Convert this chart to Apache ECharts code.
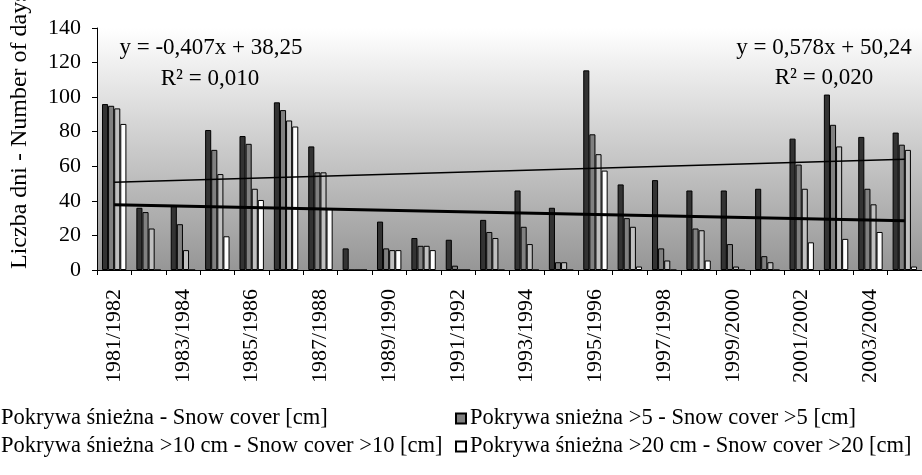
<!DOCTYPE html>
<html>
<head>
<meta charset="utf-8">
<script src="https://cdn.jsdelivr.net/npm/echarts@6/dist/echarts.min.js"></script>
<style>html,body{margin:0;padding:0;background:#fff;}#c{width:922px;height:475px;}</style>
</head>
<body>
<div id="c"></div>
<script>
const seasons = ['1981/1982','1982/1983','1983/1984','1984/1985','1985/1986','1986/1987','1987/1988','1988/1989','1989/1990','1990/1991','1991/1992','1992/1993','1993/1994','1994/1995','1995/1996','1996/1997','1997/1998','1998/1999','1999/2000','2000/2001','2001/2002','2002/2003','2003/2004','2004/2005'];
const snowCover   = [96, 36, 37, 81, 77.5, 97, 71.5, 12.5, 28, 18.5, 17.5, 29, 46, 36, 115.5, 49.5, 52, 46, 46, 47, 76, 101.5, 77, 79.5];
const snowOver5   = [95, 33.5, 26.5, 69.5, 73, 92.5, 56.5, 0, 12.5, 14, 2.5, 22, 25, 4.5, 78.5, 30, 12.5, 24, 15, 8, 61, 84, 47, 72.5];
const snowOver10  = [93.5, 24, 11.5, 55.5, 47, 86.5, 56.5, 0, 11.5, 14, 0, 18.5, 15, 4.5, 67, 25, 5.5, 23, 2, 4.5, 47, 71.5, 38, 69.5];
const snowOver20  = [84.5, 0, 0, 19.5, 40.5, 83, 35.5, 0, 11.5, 11.5, 0, 0, 0, 0, 57.5, 2, 0, 5.5, 0, 0, 16, 18, 22, 2];
const trendThinEnds  = [50.8, 64.1];
const trendThickEnds = [37.8, 28.5];
const yTicks = {min: 0, max: 140, interval: 20};
const names = ['Pokrywa śnieżna - Snow cover [cm]', 'Pokrywa snieżna >5 - Snow cover >5 [cm]', 'Pokrywa śnieżna >10 cm - Snow cover >10 [cm]', 'Pokrywa śnieżna >20 cm - Snow cover >20 [cm]'];
const yName = 'Liczba dni - Number of days';
const eqLeft = ['y = -0,407x + 38,25', 'R² = 0,010'];
const eqRight = ['y = 0,578x + 50,24', 'R² = 0,020'];

const FONT = '"Liberation Serif", "Times New Roman", serif';
const colors = ['#333333', '#808080', '#c0c0c0', '#ffffff'];
const last = seasons.length - 1;

function bar(name, data, color) {
  return {
    name: name, type: 'bar', data: data,
    barGap: '0%', barCategoryGap: '29%',
    itemStyle: {color: color, borderColor: '#000', borderWidth: 1},
    emphasis: {disabled: true}
  };
}
function trend(ends, w) {
  return {
    type: 'line', data: [[seasons[0], ends[0]], [seasons[last], ends[1]]],
    showSymbol: false, symbol: 'none', silent: true,
    lineStyle: {color: '#000', width: w}, z: 5
  };
}
function txt(x, y, s, size) {
  return {type: 'text', x: x, y: y, style: {text: s, font: size + 'px ' + FONT, fill: '#000', align: 'center', verticalAlign: 'middle'}};
}
const legendText = {fontFamily: FONT, fontSize: 22.5, color: '#000', padding: [0, 0, 0, -1]};

const chart = echarts.init(document.getElementById('c'), null, {renderer: 'canvas'});
chart.setOption({
  animation: false,
  backgroundColor: '#fff',
  grid: {
    left: 97, top: 28, width: 827, height: 242, show: true, borderWidth: 0,
    backgroundColor: {type: 'linear', x: 0, y: 0, x2: 0, y2: 1,
      colorStops: [{offset: 0, color: '#ffffff'}, {offset: 1, color: '#969696'}]}
  },
  xAxis: {
    type: 'category', data: seasons,
    axisLine: {lineStyle: {color: '#000', width: 1}},
    axisTick: {show: true, interval: 0, length: 5, inside: false, lineStyle: {color: '#000'}},
    axisLabel: {interval: 1, rotate: 90, color: '#000', fontFamily: FONT, fontSize: 22, margin: 19}
  },
  yAxis: {
    type: 'value', min: yTicks.min, max: yTicks.max, interval: yTicks.interval,
    splitLine: {show: false},
    axisLine: {show: true, lineStyle: {color: '#000', width: 1}},
    axisTick: {show: true, length: 5, lineStyle: {color: '#000'}},
    axisLabel: {color: '#000', fontFamily: FONT, fontSize: 22, margin: 16}
  },
  legend: [
    {data: [names[0], names[2]], orient: 'vertical', left: -14, top: 407, itemGap: 5, padding: 0,
     itemWidth: 10, itemHeight: 10, icon: 'rect', textStyle: legendText},
    {data: [names[1], names[3]], orient: 'vertical', left: 455, top: 407, itemGap: 5, padding: 0,
     itemWidth: 10, itemHeight: 10, icon: 'rect', textStyle: legendText}
  ],
  graphic: [
    {type: 'text', x: 20, y: 269, rotation: Math.PI / 2,
     style: {text: yName, font: '24px ' + FONT, fill: '#000', align: 'left', verticalAlign: 'middle'}},
    txt(211, 48, eqLeft[0], 23),
    txt(210, 79, eqLeft[1], 23),
    txt(824, 48, eqRight[0], 23),
    txt(824, 78, eqRight[1], 23)
  ],
  series: [
    bar(names[0], snowCover, colors[0]),
    bar(names[1], snowOver5, colors[1]),
    bar(names[2], snowOver10, colors[2]),
    bar(names[3], snowOver20, colors[3]),
    trend(trendThinEnds, 1.5),
    trend(trendThickEnds, 3)
  ]
});
</script>
</body>
</html>
